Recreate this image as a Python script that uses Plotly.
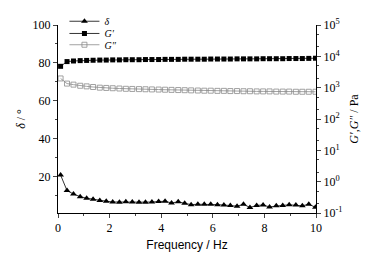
import plotly.graph_objects as go

freq = [0.1, 0.35, 0.6, 0.86, 1.11, 1.36, 1.62, 1.87, 2.12, 2.38, 2.63, 2.88, 3.14, 3.39,
        3.64, 3.9, 4.15, 4.4, 4.66, 4.91, 5.16, 5.42, 5.67, 5.92, 6.18, 6.43, 6.68, 6.94,
        7.19, 7.44, 7.7, 7.95, 8.2, 8.46, 8.71, 8.96, 9.22, 9.47, 9.72, 9.98]

delta = [21, 12.8, 11, 9.6, 8.8, 8.2, 7.6, 7.2, 6.8, 6.7, 6.9, 6.8, 6.7, 6.7, 6.8, 7.1,
         7.2, 6.3, 6.9, 6.1, 5.4, 5.6, 5.6, 5.6, 5.4, 5.2, 4.9, 4.6, 5.6, 3.9, 5.0, 5.2,
         4.2, 4.8, 5.0, 5.3, 5.2, 4.8, 5.6, 4.0]

g1 = [4800, 6800, 7100, 7300, 7400, 7500, 7600, 7600, 7700, 7700, 7800, 7800, 7800, 7900,
      7900, 7900, 8000, 8000, 8000, 8100, 8100, 8100, 8100, 8200, 8200, 8200, 8200, 8300,
      8300, 8300, 8300, 8400, 8400, 8400, 8400, 8500, 8500, 8500, 8600, 8700]

g2 = [1970, 1350, 1250, 1150, 1100, 1050, 1000, 980, 960, 940, 920, 910, 900, 890,
      880, 870, 860, 850, 840, 830, 820, 810, 800, 800, 790, 790, 780, 780,
      770, 770, 760, 760, 760, 750, 750, 750, 740, 740, 740, 740]

left_ticks = [20, 40, 60, 80, 100]
right_vals = [0.1, 1, 10, 100, 1000, 10000, 100000]
right_text = ["10<sup>-1</sup>", "10<sup>0</sup>", "10<sup>1</sup>", "10<sup>2</sup>",
              "10<sup>3</sup>", "10<sup>4</sup>", "10<sup>5</sup>"]
x_ticks = [0, 2, 4, 6, 8, 10]

SERIF = "Liberation Serif"

fig = go.Figure()
fig.add_trace(go.Scatter(
    x=freq, y=delta, name="<i>δ</i>", mode="lines+markers", legend="legend",
    line=dict(color="black", width=0.8),
    marker=dict(symbol="triangle-up", size=6, color="black"),
))
fig.add_trace(go.Scatter(
    x=freq, y=g1, name="<i>G′</i>", mode="lines+markers", yaxis="y2", legend="legend2",
    line=dict(color="black", width=0.8),
    marker=dict(symbol="square", size=5, color="black"),
))
fig.add_trace(go.Scatter(
    x=freq, y=g2, name="<i>G″</i>", mode="lines+markers", yaxis="y2", legend="legend3",
    line=dict(color="#8a8a8a", width=0.8),
    marker=dict(symbol="square-open", size=5, color="#8a8a8a", line=dict(width=0.8)),
))

leg = dict(xanchor="left", yanchor="middle", bgcolor="rgba(0,0,0,0)",
           font=dict(family=SERIF, size=10), itemwidth=30)

fig.update_layout(
    width=378, height=248,
    margin=dict(l=50, r=70, t=17, b=43, autoexpand=False),
    paper_bgcolor="white", plot_bgcolor="white",
    font=dict(family=SERIF, size=12, color="black"),
    showlegend=True,
    legend=dict(x=0.025, y=1.02, **leg),
    legend2=dict(x=0.025, y=0.955, **leg),
    legend3=dict(x=0.025, y=0.895, **leg),
    xaxis=dict(
        range=[0, 10], tickvals=x_ticks, ticks="outside", ticklen=4, automargin=False,
        showline=True, linecolor="black", linewidth=1, showgrid=False, zeroline=False,
        minor=dict(dtick=1, ticks="outside", ticklen=2, showgrid=False),
        title=dict(text="Frequency / Hz", font=dict(family="Liberation Sans", size=12), standoff=6),
        tickfont=dict(family=SERIF, size=12),
    ),
    yaxis=dict(
        range=[1, 100], tickvals=left_ticks, ticks="outside", ticklen=4, automargin=False,
        showline=True, linecolor="black", linewidth=1, showgrid=False, zeroline=False,
        minor=dict(dtick=10, tick0=0, ticks="outside", ticklen=2, showgrid=False),
        title=dict(text="<i>δ</i> / °", font=dict(family=SERIF, size=12), standoff=4),
        tickfont=dict(family=SERIF, size=12),
    ),
    yaxis2=dict(
        type="log", range=[-1, 5], overlaying="y", side="right", automargin=False,
        tickvals=right_vals, ticktext=right_text, ticks="outside", ticklen=4,
        showline=True, linecolor="black", linewidth=1, showgrid=False, zeroline=False,
        minor=dict(ticks="outside", ticklen=2, showgrid=False),
        title=dict(text="<i>G′</i>,<i>G″</i> / Pa", font=dict(family=SERIF, size=12), standoff=8),
        tickfont=dict(family=SERIF, size=12),
    ),
)

fig.write_html("out.html")
